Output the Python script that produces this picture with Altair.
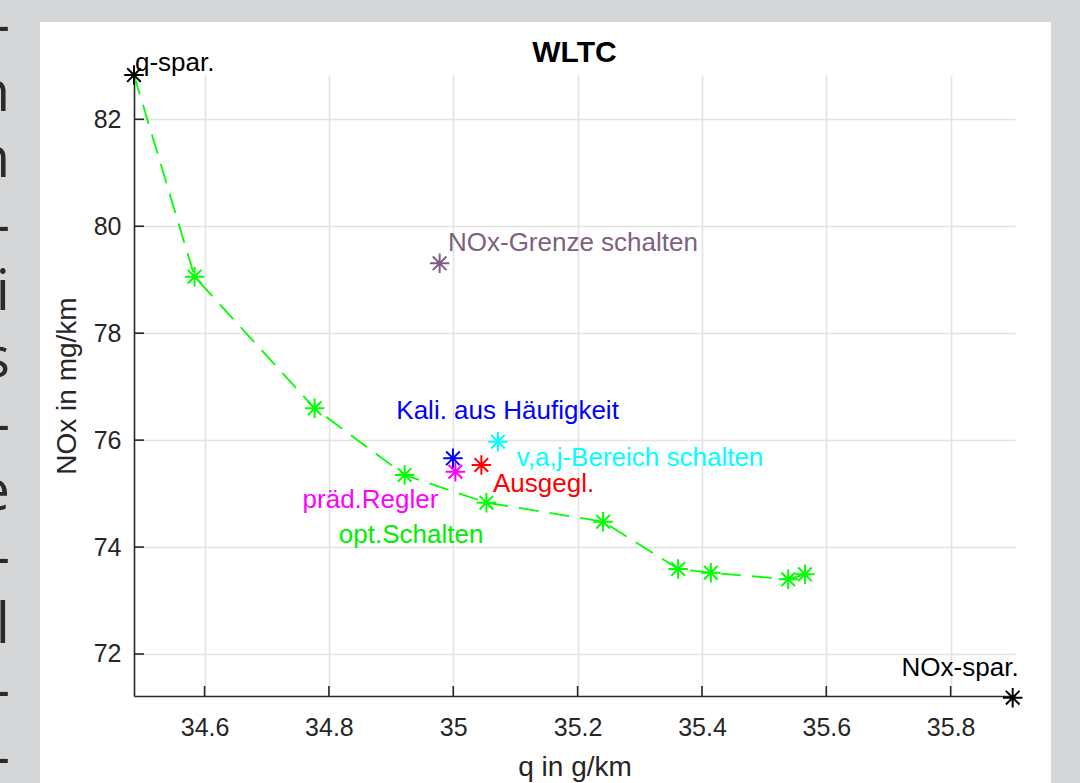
import altair as alt
import pandas as pd

# Pareto front of the optimal shift strategy (starts at the q-saving point)
front_q = [34.4865, 34.5839, 34.7770, 34.9218, 35.0533, 35.2410, 35.3617, 35.4143, 35.5387, 35.5656]
front_nox = [82.828, 79.056, 76.595, 75.348, 74.830, 74.474, 73.590, 73.520, 73.397, 73.490]

# single strategies
strategy_names = ["NOx-Grenze schalten", "Kali. aus Häufigkeit", "präd.Regler", "Ausgegl.",
                  "v,a,j-Bereich schalten", "q-spar.", "NOx-spar."]
strategy_q = [34.9781, 34.9995, 35.0034, 35.0452, 35.0719, 34.4865, 35.8998]
strategy_nox = [79.307, 75.660, 75.409, 75.535, 75.970, 82.828, 71.183]

# text annotations, anchored (left, middle) in data coordinates
label_text = ["q-spar.", "NOx-spar.", "NOx-Grenze schalten", "Kali. aus Häufigkeit",
              "v,a,j-Bereich schalten", "Ausgegl.", "präd.Regler", "opt.Schalten"]
label_q = [34.4880, 35.7211, 34.9915, 34.9084, 35.1020, 35.0639, 34.7576, 34.8160]
label_nox = [83.053, 71.738, 79.687, 76.545, 75.666, 75.179, 74.880, 74.226]

x_ticks = [34.6, 34.8, 35.0, 35.2, 35.4, 35.6, 35.8]
y_ticks = [72, 74, 76, 78, 80, 82]

chart_title = "WLTC"

# cut-off characters of the surrounding page text
margin_glyphs = ["-", "n", "n", "-", "i", "s", "-", "e", "-", "l", "-", "-"]

colors = {
    "NOx-Grenze schalten": "#7f5f7f",
    "Kali. aus Häufigkeit": "#0000ff",
    "präd.Regler": "#ff00ff",
    "Ausgegl.": "#ff0000",
    "v,a,j-Bereich schalten": "#00ffff",
    "q-spar.": "#000000",
    "NOx-spar.": "#000000",
    "opt.Schalten": "#00ee00",
}

FONT = "Liberation Sans"
GREEN = "#00ff00"
INK = "#262626"
PAGE = "#d5d6d8"
ASTERISK = "M-1,0L1,0M0,-1L0,1M-0.7,-0.7L0.7,0.7M-0.7,0.7L0.7,-0.7"

W, H = 881, 621
PAD_L, PAD_T = 134, 75

front = pd.DataFrame({"q": front_q, "nox": front_nox})
strategies = pd.DataFrame({"q": strategy_q, "nox": strategy_nox, "name": strategy_names})
strategies["color"] = strategies["name"].map(colors)
labels = pd.DataFrame({"q": label_q, "nox": label_nox, "text": label_text})
labels["color"] = labels["text"].map(colors)

xscale = alt.Scale(domain=[34.4865, 35.9035], nice=False, zero=False)
yscale = alt.Scale(domain=[71.2145, 82.8285], nice=False, zero=False)

x_enc = alt.X("q:Q", scale=xscale, title="q in g/km",
              axis=alt.Axis(values=x_ticks, format="~g", ticks=False, labelPadding=19,
                            titlePadding=13))
y_enc = alt.Y("nox:Q", scale=yscale, title="NOx in mg/km",
              axis=alt.Axis(values=y_ticks, format="d", ticks=False, labelPadding=13,
                            titlePadding=12))

one = pd.DataFrame({"k": [0]})

# page background around the white figure
page_parts = []
for x0, x1, y0, y1 in [(-PAD_L, 40 - PAD_L, -PAD_T, 800), (-PAD_L, 1100, -PAD_T, 22 - PAD_T),
                       (1051 - PAD_L, 1100, -PAD_T, 800)]:
    page_parts.append(
        alt.Chart(one).mark_rect(color=PAGE).encode(
            x=alt.value(x0), x2=alt.value(x1), y=alt.value(y0), y2=alt.value(y1))
    )

glyph_layers = []
for i, g in enumerate(margin_glyphs):
    glyph_layers.append(
        alt.Chart(one).mark_text(text=g, font="Open Sans", fontSize=56,
                                 color="#2a2a2a", align="right", baseline="alphabetic").encode(
            x=alt.value(10 - PAD_L), y=alt.value(44 + 66.5 * i - PAD_T))
    )

# title drawn as text centred over the plot area
title_layer = alt.Chart(one).mark_text(
    text=chart_title, font=FONT, fontSize=30, fontWeight="bold", color="#000000",
    align="center", baseline="alphabetic").encode(x=alt.value(W / 2), y=alt.value(-13))

# inward tick marks
xt = alt.Chart(pd.DataFrame({"q": x_ticks})).mark_rule(color=INK, strokeWidth=1.6).encode(
    x=alt.X("q:Q", scale=xscale), y=alt.value(H), y2=alt.value(H - 10))
yt = alt.Chart(pd.DataFrame({"nox": y_ticks})).mark_rule(color=INK, strokeWidth=1.6).encode(
    y=alt.Y("nox:Q", scale=yscale), x=alt.value(0), x2=alt.value(10))

front_line = alt.Chart(front).mark_line(color=GREEN, strokeWidth=1.8, strokeDash=[20, 11]).encode(
    x=x_enc, y=y_enc)
front_pts = alt.Chart(front.iloc[1:]).mark_point(
    shape=ASTERISK, size=380, filled=False, color=GREEN, strokeWidth=2, opacity=1).encode(
    x="q:Q", y="nox:Q")
strat_pts = alt.Chart(strategies).mark_point(
    shape=ASTERISK, size=380, filled=False, strokeWidth=2, opacity=1).encode(
    x="q:Q", y="nox:Q", color=alt.Color("color:N", scale=None))
texts = alt.Chart(labels).mark_text(align="left", baseline="middle", font=FONT, fontSize=26).encode(
    x="q:Q", y="nox:Q", text="text:N", color=alt.Color("color:N", scale=None))

chart = alt.layer(
    *page_parts, *glyph_layers, title_layer, xt, yt, front_line, front_pts, strat_pts, texts
).properties(
    width=W, height=H,
    autosize=alt.AutoSizeParams(type="none"),
    padding={"left": PAD_L, "top": PAD_T, "right": 1080 - PAD_L - W, "bottom": 783 - PAD_T - H},
    background="#ffffff",
).configure_view(stroke=None).configure_axis(
    labelFont=FONT, labelFontSize=25, labelColor=INK,
    titleFont=FONT, titleFontSize=28, titleColor=INK, titleFontWeight="normal",
    domainColor=INK, domainWidth=1.6,
    gridColor="#e3e3e3", gridWidth=1.6,
)

chart.save("out.html", embed_options={"renderer": "svg", "actions": False})
